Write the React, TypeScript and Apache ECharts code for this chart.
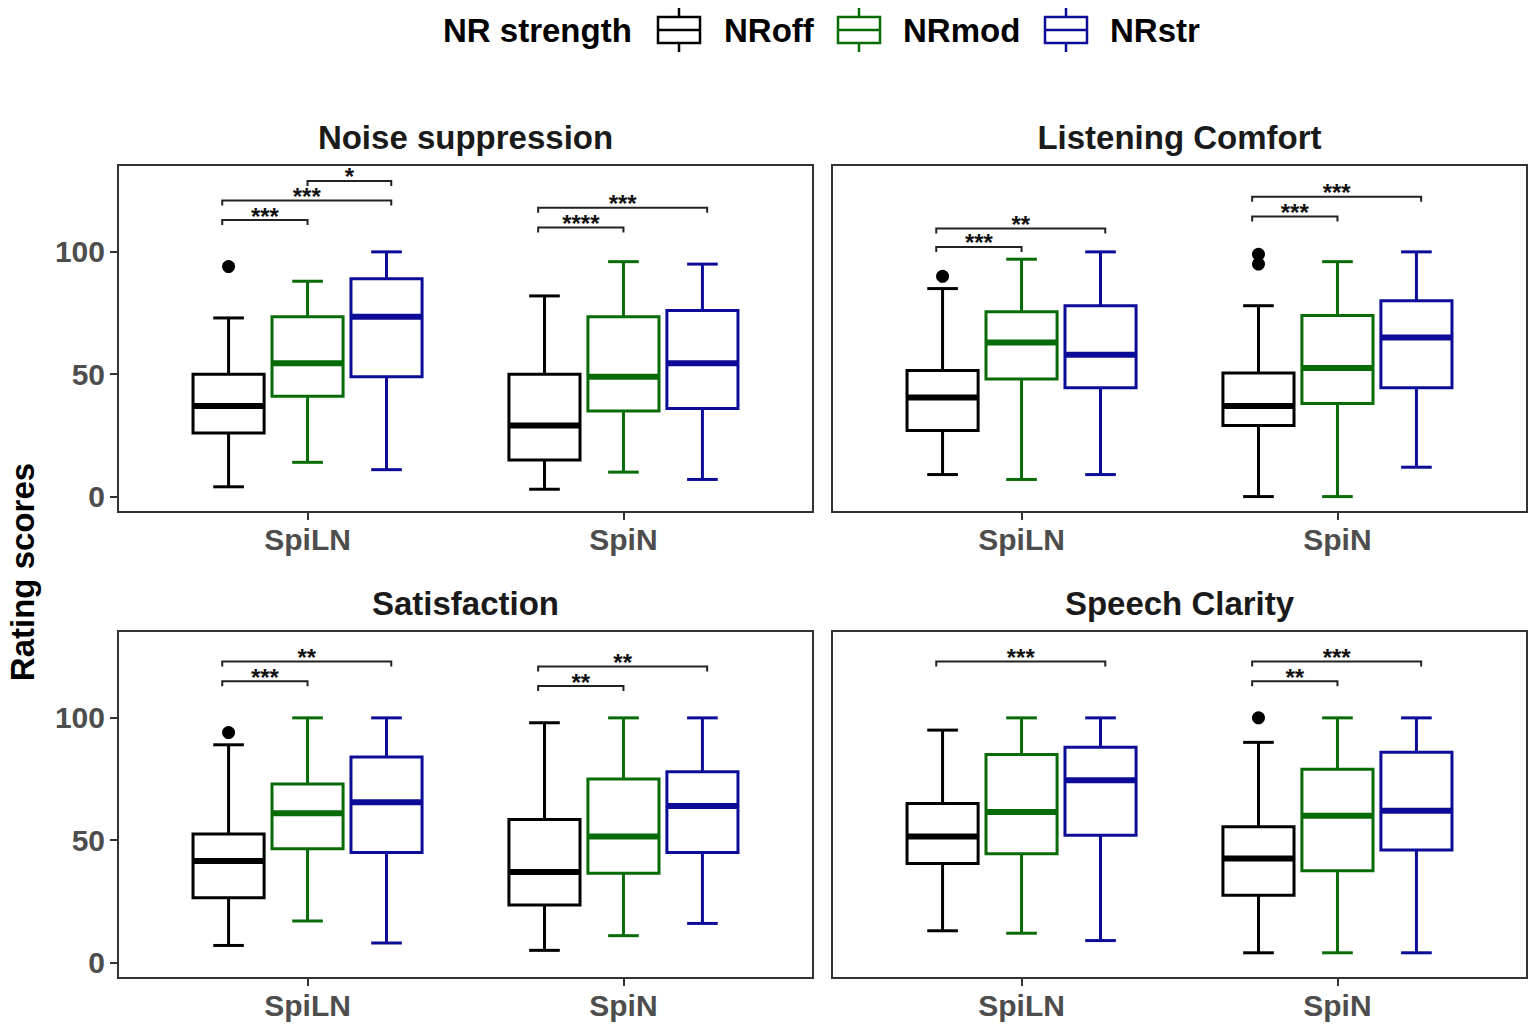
import React, { useEffect, useRef } from 'react';
import * as echarts from 'echarts';

// ---------- data ----------
const categories = ['SpiLN', 'SpiN'];
const groups = ['NRoff', 'NRmod', 'NRstr'];
const panelTitles = ['Noise suppression', 'Listening Comfort', 'Satisfaction', 'Speech Clarity'];
const yTicks = [0, 50, 100];

// box stats: [lower whisker, Q1, median, Q3, upper whisker] for [SpiLN, SpiN]
const noiseNRoff = [[4, 26, 37, 50, 73], [3, 15, 29, 50, 82]];
const noiseNRmod = [[14, 41, 54.5, 73.5, 88], [10, 35, 49, 73.5, 96]];
const noiseNRstr = [[11, 49, 73.5, 89, 100], [7, 36, 54.5, 76, 95]];
const comfortNRoff = [[9, 27, 40.5, 51.5, 85], [0, 29, 37, 50.5, 78]];
const comfortNRmod = [[7, 48, 63, 75.5, 97], [0, 38, 52.5, 74, 96]];
const comfortNRstr = [[9, 44.5, 58, 78, 100], [12, 44.5, 65, 80, 100]];
const satisNRoff = [[7, 26.5, 41.5, 52.5, 89], [5, 23.5, 37, 58.5, 98]];
const satisNRmod = [[17, 46.5, 61, 73, 100], [11, 36.5, 51.5, 75, 100]];
const satisNRstr = [[8, 45, 65.5, 84, 100], [16, 45, 64, 78, 100]];
const clarityNRoff = [[13, 40.5, 51.5, 65, 95], [4, 27.5, 42.5, 55.5, 90]];
const clarityNRmod = [[12, 44.5, 61.5, 85, 100], [4, 37.5, 60, 79, 100]];
const clarityNRstr = [[9, 52, 74.5, 88, 100], [4, 46, 62, 86, 100]];

// outliers: [group index, category index, value]
const noiseOutliers = [[0, 0, 94]];
const comfortOutliers = [[0, 0, 90], [0, 1, 99], [0, 1, 95]];
const satisOutliers = [[0, 0, 94]];
const clarityOutliers = [[0, 1, 100]];

// significance: [category index, group a, group b, bracket height, label]
const noiseSig = [[0, 0, 1, 113, '***'], [0, 0, 2, 121, '***'], [0, 1, 2, 129, '*'], [1, 0, 1, 110, '****'], [1, 0, 2, 118, '***']];
const comfortSig = [[0, 0, 1, 102, '***'], [0, 0, 2, 109.5, '**'], [1, 0, 1, 114.5, '***'], [1, 0, 2, 122.5, '***']];
const satisSig = [[0, 0, 1, 115, '***'], [0, 0, 2, 123, '**'], [1, 0, 1, 113, '**'], [1, 0, 2, 121, '**']];
const claritySig = [[0, 0, 2, 123, '***'], [1, 0, 1, 115, '**'], [1, 0, 2, 123, '***']];

// ---------- layout / style ----------
const FONT = '"Liberation Sans", Arial, sans-serif';
const groupColors = ['#000000', '#076C07', '#0C0C98'];
const GRIDS = [
  { left: 118, top: 165 },
  { left: 832, top: 165 },
  { left: 118, top: 631 },
  { left: 832, top: 631 },
];
const GRID_W = 695;
const GRID_H = 347;
const OFFSETS = [-0.25, 0, 0.25];
const BRACKET_OFF = [-0.27, 0, 0.265];
const BOX_W = 0.225;
const CAP_W = 0.097;
const Y_MIN = -6.3;
const Y_MAX = 135.5;

const panels = [
  { stats: [noiseNRoff, noiseNRmod, noiseNRstr], outliers: noiseOutliers, sig: noiseSig },
  { stats: [comfortNRoff, comfortNRmod, comfortNRstr], outliers: comfortOutliers, sig: comfortSig },
  { stats: [satisNRoff, satisNRmod, satisNRstr], outliers: satisOutliers, sig: satisSig },
  { stats: [clarityNRoff, clarityNRmod, clarityNRstr], outliers: clarityOutliers, sig: claritySig },
];

function renderBox(color: string) {
  return (params: any, api: any) => {
    const x = api.value(0);
    const lo = api.value(1), q1 = api.value(2), med = api.value(3), q3 = api.value(4), hi = api.value(5);
    const pTL = api.coord([x - BOX_W / 2, q3]);
    const pBR = api.coord([x + BOX_W / 2, q1]);
    const xc = api.coord([x, med])[0];
    const ymed = api.coord([x, med])[1];
    const yhi = api.coord([x, hi])[1];
    const ylo = api.coord([x, lo])[1];
    const capL = api.coord([x - CAP_W / 2, 0])[0];
    const capR = api.coord([x + CAP_W / 2, 0])[0];
    const ls = { stroke: color, lineWidth: 3, fill: 'none' };
    return {
      type: 'group',
      children: [
        { type: 'line', shape: { x1: xc, y1: yhi, x2: xc, y2: pTL[1] }, style: ls },
        { type: 'line', shape: { x1: xc, y1: pBR[1], x2: xc, y2: ylo }, style: ls },
        { type: 'line', shape: { x1: capL, y1: yhi, x2: capR, y2: yhi }, style: ls },
        { type: 'line', shape: { x1: capL, y1: ylo, x2: capR, y2: ylo }, style: ls },
        {
          type: 'rect',
          shape: { x: pTL[0], y: pTL[1], width: pBR[0] - pTL[0], height: pBR[1] - pTL[1] },
          style: { stroke: color, lineWidth: 3, fill: '#ffffff' },
        },
        { type: 'line', shape: { x1: pTL[0], y1: ymed, x2: pBR[0], y2: ymed }, style: { stroke: color, lineWidth: 6 } },
      ],
    };
  };
}

function renderBracket(labels: string[]) {
  return (params: any, api: any) => {
    const x1 = api.value(0), x2 = api.value(1), y = api.value(2);
    const a = api.coord([x1, y]);
    const b = api.coord([x2, y]);
    const tick = 5;
    return {
      type: 'group',
      children: [
        {
          type: 'polyline',
          shape: { points: [[a[0], a[1] + tick], [a[0], a[1]], [b[0], b[1]], [b[0], b[1] + tick]] },
          style: { stroke: '#222222', lineWidth: 2, fill: 'none' },
        },
        {
          type: 'text',
          style: {
            text: labels[params.dataIndex],
            x: (a[0] + b[0]) / 2,
            y: a[1] - 4,
            align: 'center',
            verticalAlign: 'middle',
            fontSize: 24,
            fontWeight: 'bold',
            fontFamily: FONT,
            fill: '#111111',
          },
        },
      ],
    };
  };
}

function buildOption() {
  const grid: any[] = [];
  const xAxis: any[] = [];
  const yAxis: any[] = [];
  const series: any[] = [];
  const graphic: any[] = [];

  panels.forEach((p, pi) => {
    const g = GRIDS[pi];
    grid.push({
      left: g.left, top: g.top, width: GRID_W, height: GRID_H,
      show: true, borderColor: '#333333', borderWidth: 2, backgroundColor: 'transparent',
    });
    xAxis.push({
      type: 'value', gridIndex: pi, min: 0.4, max: 2.6, position: 'bottom',
      axisLine: { show: false, onZero: false },
      splitLine: { show: false },
      axisTick: { show: true, customValues: [1, 2], length: 8, lineStyle: { color: '#333333', width: 2 } },
      axisLabel: {
        show: true, customValues: [1, 2], margin: 12,
        formatter: (v: number) => categories[Math.round(v) - 1] ?? '',
        fontSize: 30, fontWeight: 'bold', fontFamily: FONT, color: '#4D4D4D',
      },
    });
    const showY = pi % 2 === 0;
    yAxis.push({
      type: 'value', gridIndex: pi, min: Y_MIN, max: Y_MAX, position: 'left',
      axisLine: { show: false, onZero: false },
      splitLine: { show: false },
      axisTick: { show: showY, customValues: yTicks, length: 8, lineStyle: { color: '#333333', width: 2 } },
      axisLabel: {
        show: showY, customValues: yTicks, margin: 13,
        fontSize: 30, fontWeight: 'bold', fontFamily: FONT, color: '#4D4D4D',
      },
    });

    p.stats.forEach((gs, gi) => {
      series.push({
        type: 'custom', name: groups[gi], xAxisIndex: pi, yAxisIndex: pi,
        renderItem: renderBox(groupColors[gi]),
        encode: { x: 0, y: [1, 2, 3, 4, 5] },
        data: gs.map((s, ci) => [ci + 1 + OFFSETS[gi], ...s]),
        z: 2,
      });
    });

    series.push({
      type: 'scatter', xAxisIndex: pi, yAxisIndex: pi,
      symbol: 'circle', symbolSize: 13,
      itemStyle: { color: '#000000', opacity: 1 },
      data: p.outliers.map((o) => [o[1] + 1 + OFFSETS[o[0]], o[2]]),
      z: 3,
    });

    series.push({
      type: 'custom', xAxisIndex: pi, yAxisIndex: pi,
      renderItem: renderBracket(p.sig.map((s) => s[4] as string)),
      encode: { x: [0, 1], y: 2 },
      data: p.sig.map((s) => [
        (s[0] as number) + 1 + BRACKET_OFF[s[1] as number],
        (s[0] as number) + 1 + BRACKET_OFF[s[2] as number],
        s[3],
      ]),
      z: 4,
    });

    graphic.push({
      type: 'text',
      x: g.left + GRID_W / 2,
      y: g.top - 28,
      style: {
        text: panelTitles[pi], align: 'center', verticalAlign: 'middle',
        fontSize: 33, fontWeight: 'bold', fontFamily: FONT, fill: '#1a1a1a',
      },
    });
  });

  // y axis title
  graphic.push({
    type: 'text', x: 22, y: 572, rotation: Math.PI / 2,
    style: {
      text: 'Rating scores', align: 'center', verticalAlign: 'middle',
      fontSize: 33, fontWeight: 'bold', fontFamily: FONT, fill: '#000000',
    },
  });

  // legend
  const legendY = 30;
  graphic.push({
    type: 'text', x: 443, y: legendY,
    style: { text: 'NR strength', align: 'left', verticalAlign: 'middle', fontSize: 33, fontWeight: 'bold', fontFamily: FONT, fill: '#000000' },
  });
  const iconX = [658, 838, 1045];
  const labelX = [724, 903, 1110];
  groups.forEach((name, gi) => {
    const x0 = iconX[gi];
    const w = 42;
    const c = groupColors[gi];
    const st = { stroke: c, lineWidth: 2.5, fill: 'none' };
    graphic.push({
      type: 'group',
      children: [
        { type: 'line', shape: { x1: x0 + w / 2, y1: legendY - 22, x2: x0 + w / 2, y2: legendY - 13 }, style: st },
        { type: 'line', shape: { x1: x0 + w / 2, y1: legendY + 13, x2: x0 + w / 2, y2: legendY + 22 }, style: st },
        { type: 'rect', shape: { x: x0, y: legendY - 13, width: w, height: 26 }, style: { stroke: c, lineWidth: 2.5, fill: '#ffffff' } },
        { type: 'line', shape: { x1: x0, y1: legendY, x2: x0 + w, y2: legendY }, style: st },
      ],
    });
    graphic.push({
      type: 'text', x: labelX[gi], y: legendY,
      style: { text: name, align: 'left', verticalAlign: 'middle', fontSize: 33, fontWeight: 'bold', fontFamily: FONT, fill: '#000000' },
    });
  });

  return {
    animation: false,
    backgroundColor: '#ffffff',
    grid, xAxis, yAxis, series, graphic,
  };
}

export default function App() {
  const ref = useRef<HTMLDivElement>(null);
  useEffect(() => {
    if (!ref.current) return;
    const chart = echarts.init(ref.current, undefined, { renderer: 'svg' });
    chart.setOption(buildOption() as any);
    return () => chart.dispose();
  }, []);
  return (
    <div
      ref={ref}
      style={{ position: 'absolute', left: 0, top: 0, width: 1535, height: 1028, background: '#ffffff' }}
    />
  );
}
